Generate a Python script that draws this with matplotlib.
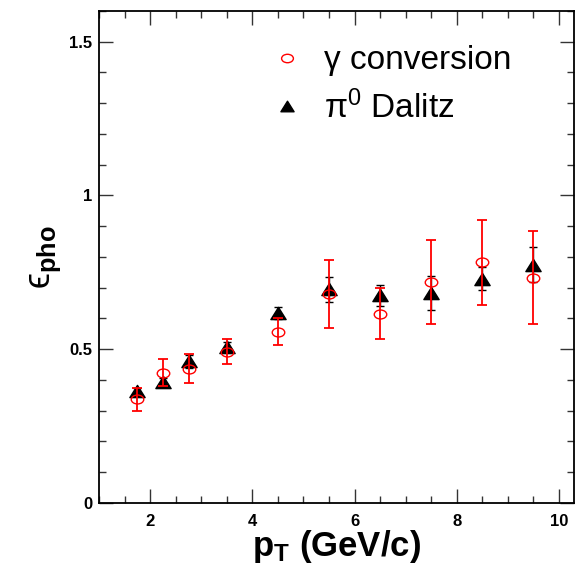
import numpy as np
import matplotlib.pyplot as plt
from matplotlib.path import Path
from matplotlib.transforms import Affine2D
from matplotlib.lines import Line2D
from matplotlib.ticker import MultipleLocator

plt.rcParams['font.family'] = ['Liberation Sans', 'DejaVu Sans']
plt.rcParams['mathtext.fontset'] = 'custom'
plt.rcParams['mathtext.rm'] = 'Liberation Sans'
plt.rcParams['mathtext.it'] = 'Liberation Sans:italic'
plt.rcParams['mathtext.bf'] = 'Liberation Sans:bold'

# photonic electron reconstruction efficiency vs pT
pt = [1.75, 2.25, 2.75, 3.5, 4.5, 5.5, 6.5, 7.5, 8.5, 9.5]

conv_eff = [0.337, 0.424, 0.436, 0.492, 0.557, 0.679, 0.615, 0.718, 0.782, 0.733]
conv_err = [0.037, 0.043, 0.047, 0.040, 0.045, 0.110, 0.083, 0.136, 0.138, 0.152]

dalitz_eff = [0.365, 0.394, 0.460, 0.508, 0.617, 0.695, 0.675, 0.684, 0.729, 0.775]
dalitz_err = [0.010, 0.012, 0.020, 0.015, 0.020, 0.040, 0.033, 0.055, 0.038, 0.056]

# ROOT-like markers: flattened open circle and wide triangle
ellipse = Path.unit_circle().transformed(Affine2D().scale(1.4, 1.0))
triangle = Path([(-1, -0.8), (1, -0.8), (0, 0.8), (-1, -0.8)],
                [Path.MOVETO, Path.LINETO, Path.LINETO, Path.CLOSEPOLY])

fig = plt.figure(figsize=(5.8, 5.69), dpi=100)
ax = fig.add_axes([0.171, 0.116, 0.819, 0.865])

ax.errorbar(pt, dalitz_eff, yerr=dalitz_err, fmt='none', ecolor='black',
            elinewidth=1.0, capsize=3, capthick=1.0, zorder=2)
ax.plot(pt, dalitz_eff, ls='none', marker=triangle, ms=11, color='black', zorder=3)
ax.errorbar(pt, conv_eff, yerr=conv_err, fmt='none', ecolor='red',
            elinewidth=1.3, capsize=3.5, capthick=1.3, zorder=4)
ax.plot(pt, conv_eff, ls='none', marker=ellipse, ms=9, mfc='none', mec='red',
        mew=1.0, zorder=5)

ax.set_xlim(1, 10.3)
ax.set_ylim(0, 1.6)
ax.xaxis.set_major_locator(MultipleLocator(2))
ax.xaxis.set_minor_locator(MultipleLocator(0.5))
ax.yaxis.set_major_locator(MultipleLocator(0.5))
ax.yaxis.set_minor_locator(MultipleLocator(0.1))
ax.set_yticks([0, 0.5, 1, 1.5])
ax.set_yticklabels(['0', '0.5', '1', '1.5'])

ax.tick_params(which='both', direction='in', top=True, right=True,
               width=1.0, labelsize=12, color='#333333')
ax.tick_params(which='major', length=10)
ax.tick_params(which='minor', length=5)
ax.tick_params(axis='x', pad=8)
ax.tick_params(axis='y', pad=5)
for lab in ax.get_xticklabels() + ax.get_yticklabels():
    lab.set_fontweight('bold')
for sp in ax.spines.values():
    sp.set_linewidth(1.3)

ax.set_xlabel(r'$\mathbf{p_{T}}$ (GeV/c)', fontsize=25, fontweight='bold')
ax.xaxis.set_label_coords(0.5, -0.05)
ax.set_ylabel('ϵ$_{\\mathbf{pho}}$', fontsize=26)
ax.yaxis.set_label_coords(-0.077, 0.5)

handles = [
    Line2D([], [], ls='none', marker=ellipse, ms=8.5, mfc='none', mec='red', mew=1.0),
    Line2D([], [], ls='none', marker=triangle, ms=9.5, color='black'),
]
ax.legend(handles, ['γ conversion', 'π$^{0}$ Dalitz'], loc='upper left',
          bbox_to_anchor=(0.298, 0.991), frameon=False, fontsize=24,
          handlelength=1.0, handletextpad=0.6, labelspacing=0.42)

fig.savefig('out.png', dpi=100)
